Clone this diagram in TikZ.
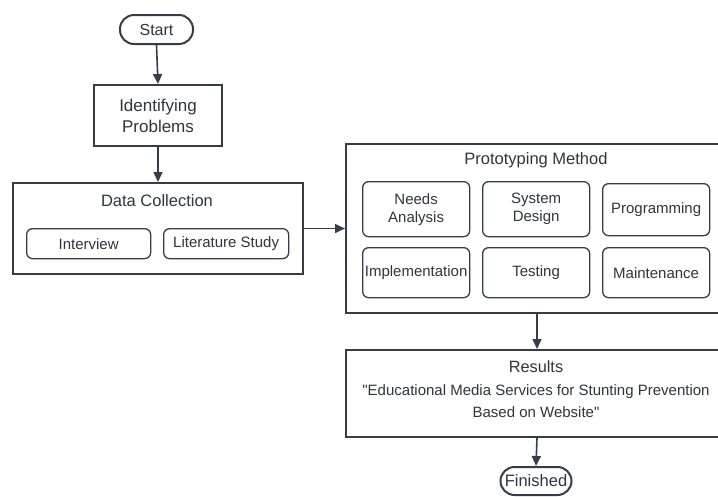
\documentclass[tikz,border=0pt]{standalone}
\usepackage{fontspec}
\setmainfont{Liberation Sans}[Ligatures=TeXOff]
\usetikzlibrary{arrows.meta,calc}
\definecolor{ln}{HTML}{373D47}
\definecolor{tx}{HTML}{30353D}
\newcommand{\fsz}[1]{\fontsize{#1}{#1}\selectfont}
\tikzset{
  every node/.style={text=tx, font=\fsz{15}, inner sep=0pt, align=center},
  big/.style={font=\fsz{16.5}},
  outerbox/.style={draw=ln, line width=2pt, anchor=north west},
  innerbox/.style={draw=ln, line width=1.3pt, rounded corners=6pt, anchor=north west},
  term/.style={draw=ln, line width=2pt, rounded corners=14pt},
  conn/.style={draw=ln, line width=1.6pt, -{Triangle[length=10pt,width=9pt]}},
}
\begin{document}
\begin{tikzpicture}[x=1pt,y=-1pt]
\path[use as bounding box] (0,0) rectangle (718,496);
\clip (0,0) rectangle (718,496);
\fill[white] (0,0) rectangle (718,496);
% Start
\node[term, font=\fsz{16}, minimum width=73pt, minimum height=29pt] (start) at (156.5,29.5) {Start};
% Identifying Problems
\node[outerbox, minimum width=128pt, minimum height=61pt] (ident) at (93,84) {};
\node[font=\fsz{17}] (identt) at (ident.center) {Identifying\\[4pt]Problems};
% Data Collection
\node[outerbox, minimum width=290pt, minimum height=91pt] (dc) at (12,182) {};
\node[big] (dct) at (157,201) {Data Collection};
\node[innerbox, minimum width=124pt, minimum height=30pt] (interview) at (26,228) {};
\node at (interview.center) {Interview};
\node[innerbox, minimum width=125pt, minimum height=30pt] (lit) at (163,228) {};
\node at (lit.center) {Literature Study};
% Prototyping
\node[outerbox, minimum width=382pt, minimum height=169pt] (proto) at (345,143) {};
\node[big] (protot) at (536,160) {Prototyping Method};
\node[innerbox, minimum width=107pt, minimum height=55pt] (needs) at (362,181) {};
\node at (needs.center) {Needs\\[3pt]Analysis};
\node[innerbox, minimum width=107pt, minimum height=55pt] (sysd) at (482,181) {};
\node at (sysd.center) {System\\[3pt]Design};
\node[innerbox, minimum width=107pt, minimum height=52pt] (prog) at (602,183) {};
\node at (prog.center) {Programming};
\node[innerbox, minimum width=107pt, minimum height=50pt] (impl) at (362,247) {};
\node at (impl.center) {Implementation};
\node[innerbox, minimum width=107pt, minimum height=50pt] (test) at (482,247) {};
\node at (test.center) {Testing};
\node[innerbox, minimum width=107pt, minimum height=50pt] (maint) at (602,247) {};
\node at (maint.center) {Maintenance};
% Results
\node[outerbox, minimum width=382pt, minimum height=87pt] (res) at (345,349) {};
\node[font=\fsz{16.3}] (rest) at (536,367) {Results};
\node (resq) at (536,401) {"Educational Media Services for Stunting Prevention\\[7pt]Based on Website"};
% Finished
\node[term, font=\fsz{16.5}, minimum width=71pt, minimum height=28pt] (fin) at (536,481) {Finished};
% connectors
\draw[conn] (start.south) -- (ident.north);
\draw[conn] (ident.south) -- (dc.north -| ident.south);
\draw[conn] (dc.east) -- (dc.east -| proto.west);
\draw[conn] (proto.south) -- (res.north);
\draw[conn] (res.south) -- (fin.north);
\end{tikzpicture}
\end{document}
